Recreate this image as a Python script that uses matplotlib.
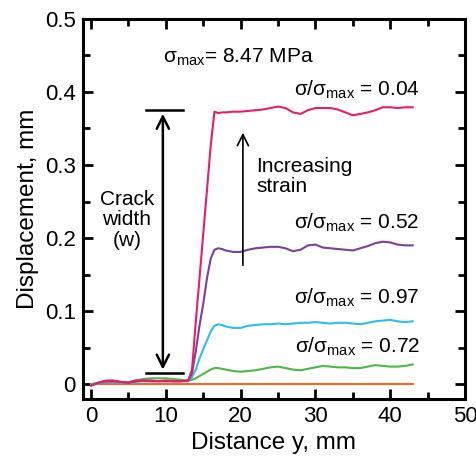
import matplotlib
matplotlib.use('Agg')
import matplotlib.pyplot as plt
from matplotlib.ticker import MultipleLocator, FuncFormatter

plt.rcParams['font.family'] = ['Liberation Sans', 'DejaVu Sans']
plt.rcParams['mathtext.fontset'] = 'custom'
plt.rcParams['mathtext.rm'] = 'Liberation Sans'

# distance along the specimen, mm
dist = [0, 1, 2, 3, 4, 5, 6, 7, 8, 9, 10, 11, 12, 13,
        13.5, 14, 14.5, 15, 15.5, 16, 16.5, 17, 17.5, 18,
        19, 20, 21, 22, 23, 24, 25, 26, 27, 28, 29, 30, 31,
        32, 33, 34, 35, 36, 37, 38, 39, 40, 41, 42, 43]

# displacement profiles (mm) for each stress ratio
disp_004 = [-0.002, 0.002, 0.005, 0.005, 0.003, 0.002, 0.005, 0.005, 0.004, 0.004, 0.005, 0.004, 0.004, 0.005,
            0.020, 0.085, 0.145, 0.206, 0.266, 0.327, 0.373, 0.371, 0.372, 0.372,
            0.373, 0.373, 0.374, 0.375, 0.376, 0.378, 0.380, 0.378, 0.372, 0.370, 0.375, 0.378, 0.378,
            0.378, 0.376, 0.372, 0.368, 0.370, 0.372, 0.375, 0.379, 0.379, 0.378, 0.379, 0.379]
disp_052 = [-0.002, 0.002, 0.004, 0.004, 0.003, 0.002, 0.004, 0.005, 0.005, 0.004, 0.004, 0.004, 0.004, 0.005,
            0.015, 0.045, 0.080, 0.110, 0.145, 0.172, 0.184, 0.186, 0.185, 0.183,
            0.181, 0.181, 0.184, 0.186, 0.187, 0.188, 0.188, 0.186, 0.182, 0.184, 0.190, 0.191, 0.187,
            0.186, 0.185, 0.184, 0.183, 0.186, 0.189, 0.193, 0.195, 0.194, 0.191, 0.190, 0.190]
disp_097 = [-0.001, 0.001, 0.003, 0.003, 0.002, 0.002, 0.003, 0.004, 0.004, 0.004, 0.004, 0.004, 0.004, 0.004,
            0.010, 0.020, 0.035, 0.048, 0.060, 0.072, 0.080, 0.082, 0.081, 0.079,
            0.077, 0.077, 0.080, 0.081, 0.082, 0.082, 0.083, 0.082, 0.083, 0.084, 0.084, 0.085, 0.084,
            0.083, 0.084, 0.084, 0.083, 0.082, 0.084, 0.086, 0.087, 0.088, 0.086, 0.085, 0.086]
disp_072 = [0.000, 0.002, 0.003, 0.003, 0.003, 0.003, 0.005, 0.007, 0.008, 0.008, 0.008, 0.007, 0.006, 0.005,
            0.006, 0.008, 0.011, 0.014, 0.017, 0.020, 0.022, 0.022, 0.021, 0.020,
            0.018, 0.017, 0.018, 0.019, 0.021, 0.023, 0.024, 0.022, 0.020, 0.019, 0.021, 0.023, 0.025,
            0.024, 0.023, 0.023, 0.022, 0.022, 0.024, 0.026, 0.025, 0.024, 0.024, 0.025, 0.027]
ref_dist = [0, 43]
ref_disp = [0.0, 0.0]

fig = plt.figure(figsize=(4.76, 4.61), dpi=100)
ax = fig.add_axes([0.174, 0.135, 0.803, 0.824])

ax.plot(ref_dist, ref_disp, color='#F26A2A', lw=1.5)
ax.plot(dist, disp_072, color='#4DB848', lw=1.5)
ax.plot(dist, disp_097, color='#2DBDEF', lw=1.5)
ax.plot(dist, disp_052, color='#7E3F98', lw=1.5)
ax.plot(dist, disp_004, color='#EC1B6E', lw=1.5)

ax.set_xlim(-1.1, 50)
ax.set_ylim(-0.02, 0.5)
ax.xaxis.set_major_locator(MultipleLocator(10))
ax.xaxis.set_minor_locator(MultipleLocator(5))
ax.yaxis.set_major_locator(MultipleLocator(0.1))
ax.yaxis.set_minor_locator(MultipleLocator(0.05))
ax.yaxis.set_major_formatter(FuncFormatter(lambda v, p: '0' if abs(v) < 1e-9 else f'{v:.1f}'))
ax.tick_params(which='both', direction='in', top=True, right=True, width=2)
ax.tick_params(which='major', length=7.5, labelsize=16, pad=5)
ax.tick_params(which='minor', length=5)
for s in ax.spines.values():
    s.set_linewidth(2.2)

ax.set_xlabel('Distance y, mm', fontsize=17.5, labelpad=4)
ax.set_ylabel('Displacement, mm', fontsize=17.5, labelpad=4)

# crack width marker
ax.plot([7.4, 12.3], [0.375, 0.375], color='black', lw=1.8)
ax.plot([7.4, 12.3], [0.015, 0.015], color='black', lw=1.8)
ax.annotate('', xy=(9.6, 0.374), xytext=(9.6, 0.016),
            arrowprops=dict(arrowstyle='<->', lw=1.8, color='black', mutation_scale=22))
ax.text(4.8, 0.225, 'Crack\nwidth\n(w)', ha='center', va='center', fontsize=15, linespacing=1.1)

ax.annotate('', xy=(20.3, 0.348), xytext=(20.3, 0.159),
            arrowprops=dict(arrowstyle='->', lw=1.2, color='black', mutation_scale=20))
ax.text(22.1, 0.284, 'Increasing\nstrain', ha='left', va='center', fontsize=15, linespacing=1.1)

ax.text(9.6, 0.448, r'σ$_{\mathrm{max}}$= 8.47 MPa', ha='left', va='center', fontsize=15)
ax.text(43.9, 0.403, r'σ/σ$_{\mathrm{max}}$ = 0.04', ha='right', va='center', fontsize=15)
ax.text(43.9, 0.221, r'σ/σ$_{\mathrm{max}}$ = 0.52', ha='right', va='center', fontsize=15)
ax.text(43.9, 0.118, r'σ/σ$_{\mathrm{max}}$ = 0.97', ha='right', va='center', fontsize=15)
ax.text(43.9, 0.051, r'σ/σ$_{\mathrm{max}}$ = 0.72', ha='right', va='center', fontsize=15)

fig.savefig('out.png', dpi=100)
